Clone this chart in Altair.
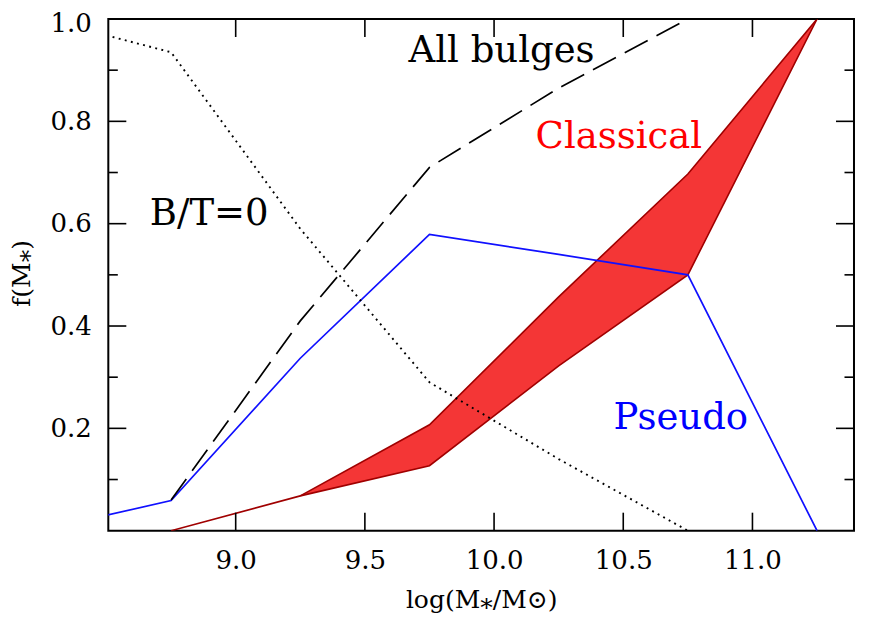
import altair as alt
import pandas as pd

# ---- data ----
bt0_x = [8.5, 8.75, 9.25, 9.75, 10.25, 10.75]
bt0_y = [0.968, 0.935, 0.59, 0.29, 0.14, 0.0]

allb_x = [8.75, 9.25, 9.75, 10.25, 10.75, 11.25]
allb_y = [0.06, 0.41, 0.71, 0.865, 1.0, 1.0]

pseudo_x = [8.5, 8.75, 9.25, 9.75, 10.25, 10.75, 11.25]
pseudo_y = [0.03, 0.059, 0.337, 0.579, 0.54, 0.50, 0.0]

class_lo_x = [8.75, 9.25, 9.75, 10.25, 10.75, 11.25]
class_lo_y = [0.0, 0.068, 0.127, 0.322, 0.50, 1.0]
class_hi_x = [9.25, 9.75, 10.25, 10.75, 11.25]
class_hi_y = [0.068, 0.207, 0.457, 0.697, 1.0]

x_ticks = [9.0, 9.5, 10.0, 10.5, 11.0]
y_major = [0.2, 0.4, 0.6, 0.8]
y_minor = [0.1, 0.3, 0.5, 0.7, 0.9]
y_labels = [0.2, 0.4, 0.6, 0.8, 1.0]

labels = ["All bulges", "Classical", "B/T=0", "Pseudo"]
label_x = [10.029, 10.483, 8.8975, 10.723]
label_y = [0.9159, 0.747, 0.598, 0.1988]
label_color = ["#000000", "#ff0000", "#000000", "#0000ff"]

# ---- layout ----
W, H = 745.7, 511.7
FONT = "DejaVu Serif"

xs = alt.Scale(domain=[8.507, 11.393], nice=False, zero=False)
ys = alt.Scale(domain=[0, 1], nice=False, zero=False)

xaxis = alt.Axis(values=x_ticks, format=".1f", ticks=False, tickSize=0, domain=False,
                 grid=False, labelPadding=17, labelFont=FONT, labelFontSize=26,
                 labelColor="black", labelFlush=False, labelOverlap=False,
                 title="log(M⁎/M⊙)", titleFont=FONT, titleFontSize=25,
                 titleFontWeight="normal", titleColor="black", titleY=77,
                 titleBaseline="alphabetic")
yaxis = alt.Axis(values=y_labels, format=".1f", ticks=False, tickSize=0, domain=False,
                 grid=False, labelPadding=17, labelFont=FONT, labelFontSize=26,
                 labelColor="black", labelFlush=False, labelOverlap=False,
                 labelOffset={"condition": {"test": "datum.value >= 0.99", "value": 5},
                              "value": 0},
                 title="f(M⁎)", titleFont=FONT, titleFontSize=25,
                 titleFontWeight="normal", titleColor="black", titleAngle=270,
                 titleX=-79, titleY=254, titleAlign="center", titleBaseline="alphabetic")


def X(field):
    return alt.X(f"{field}:Q", scale=xs, axis=xaxis)


def Y(field):
    return alt.Y(f"{field}:Q", scale=ys, axis=yaxis)


band_df = pd.DataFrame({"x": class_hi_x, "hi": class_hi_y, "lo": class_lo_y[1:]})
band = alt.Chart(band_df).mark_area(color="#f43636", clip=True).encode(
    x=X("x"), y=Y("hi"), y2="lo:Q")


def line(xv, yv, **kw):
    df = pd.DataFrame({"x": xv, "y": yv})
    return alt.Chart(df).mark_line(clip=True, **kw).encode(x=X("x"), y=Y("y"))


red_lo = line(class_lo_x, class_lo_y, color="#a00000", strokeWidth=1.6)
red_hi = line(class_hi_x, class_hi_y, color="#a00000", strokeWidth=1.6)
blue = line(pseudo_x, pseudo_y, color="#1010ff", strokeWidth=1.7)
dashed = line(allb_x, allb_y, color="black", strokeWidth=1.7, strokeDash=[26, 10])
dotted = line(bt0_x, bt0_y, color="black", strokeWidth=1.9, strokeDash=[1.9, 4.4])

xt = pd.DataFrame({"t": x_ticks})
ymaj = pd.DataFrame({"t": y_major})
ymin = pd.DataFrame({"t": y_minor})

tick_kw = dict(color="black", strokeWidth=1.6)
ticks = [
    alt.Chart(xt).mark_rule(**tick_kw).encode(x=X("t"), y=alt.value(H), y2=alt.value(H - 18)),
    alt.Chart(xt).mark_rule(**tick_kw).encode(x=X("t"), y=alt.value(0), y2=alt.value(18)),
    alt.Chart(ymaj).mark_rule(**tick_kw).encode(y=Y("t"), x=alt.value(0), x2=alt.value(18)),
    alt.Chart(ymaj).mark_rule(**tick_kw).encode(y=Y("t"), x=alt.value(W), x2=alt.value(W - 18)),
    alt.Chart(ymin).mark_rule(**tick_kw).encode(y=Y("t"), x=alt.value(0), x2=alt.value(9.5)),
    alt.Chart(ymin).mark_rule(**tick_kw).encode(y=Y("t"), x=alt.value(W), x2=alt.value(W - 9.5)),
]

text_df = pd.DataFrame({"label": labels, "x": label_x, "y": label_y, "c": label_color})
texts = alt.Chart(text_df).mark_text(font=FONT, fontSize=37, baseline="alphabetic",
                                     align="center").encode(
    x=X("x"), y=Y("y"), text="label:N", color=alt.Color("c:N", scale=None))

chart = alt.layer(band, red_lo, red_hi, blue, dashed, dotted, *ticks, texts).properties(
    width=W, height=H,
    autosize=alt.AutoSizeParams(type="none"),
    padding={"left": 100.3, "top": 11, "right": 7, "bottom": 95},
    background="white",
).configure_view(stroke="black", strokeWidth=2)

chart.save("out.html", embed_options={"renderer": "svg", "actions": False})
